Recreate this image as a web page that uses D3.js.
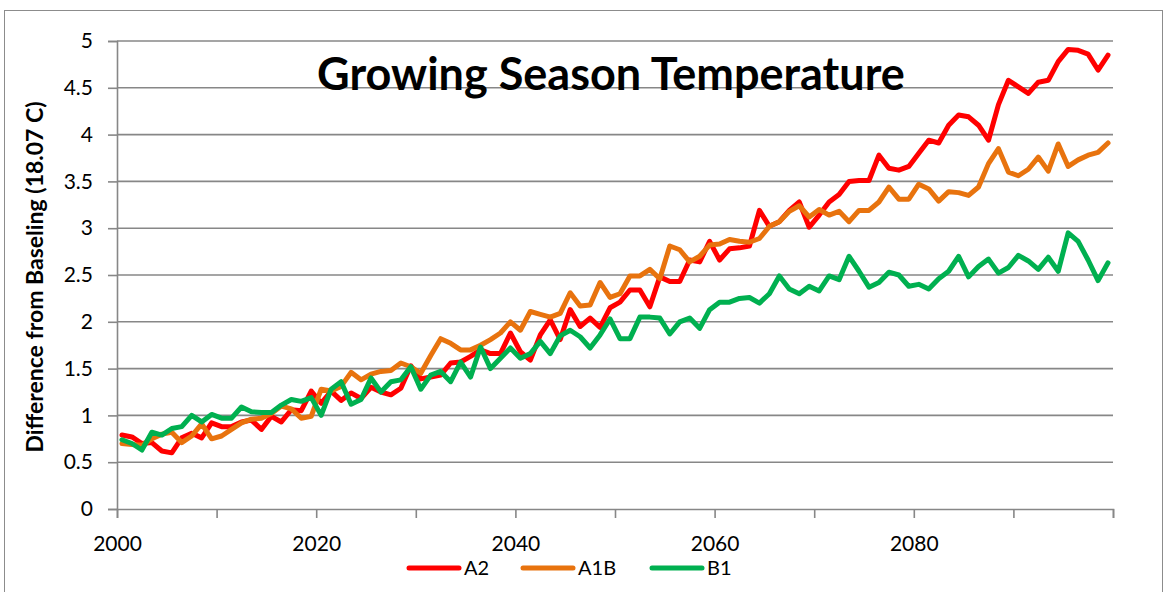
<!DOCTYPE html>
<html>
<head>
<meta charset="utf-8">
<script src="https://cdn.jsdelivr.net/npm/d3@7"></script>
<style>
  html, body { margin: 0; padding: 0; background: #fff; }
  svg { display: block; }
  text { font-family: Lato, "Liberation Sans", sans-serif; fill: #000; }
</style>
</head>
<body>
<svg id="chart" width="1168" height="592"></svg>
<script>
// Yearly categories
const years = d3.range(2000, 2100);

// Difference from baseline (deg C) per scenario
const a2 = [
  0.79, 0.77, 0.70, 0.71, 0.62, 0.60, 0.76, 0.81, 0.76, 0.92,
  0.88, 0.88, 0.93, 0.95, 0.85, 0.99, 0.93, 1.06, 1.05, 1.26,
  1.13, 1.26, 1.16, 1.24, 1.18, 1.30, 1.25, 1.22, 1.29, 1.53,
  1.39, 1.41, 1.43, 1.56, 1.57, 1.63, 1.70, 1.66, 1.66, 1.88,
  1.68, 1.59, 1.86, 2.02, 1.81, 2.13, 1.95, 2.04, 1.94, 2.15,
  2.21, 2.34, 2.34, 2.16, 2.48, 2.43, 2.43, 2.66, 2.64, 2.86,
  2.66, 2.78, 2.79, 2.81, 3.19, 3.02, 3.07, 3.19, 3.28, 3.01,
  3.14, 3.28, 3.36, 3.50, 3.51, 3.51, 3.78, 3.64, 3.62, 3.66,
  3.80, 3.94, 3.91, 4.10, 4.21, 4.19, 4.10, 3.94, 4.32, 4.58,
  4.51, 4.44, 4.56, 4.58, 4.78, 4.91, 4.90, 4.86, 4.69, 4.85
];
const a1b = [
  0.70, 0.69, 0.68, 0.75, 0.80, 0.82, 0.71, 0.78, 0.91, 0.75,
  0.78, 0.85, 0.92, 0.96, 0.97, 1.02, 1.10, 1.07, 0.97, 0.99,
  1.28, 1.26, 1.31, 1.46, 1.38, 1.44, 1.47, 1.48, 1.56, 1.52,
  1.45, 1.64, 1.82, 1.77, 1.70, 1.70, 1.75, 1.81, 1.88, 2.00,
  1.91, 2.11, 2.08, 2.05, 2.09, 2.31, 2.17, 2.18, 2.42, 2.26,
  2.30, 2.49, 2.49, 2.56, 2.46, 2.81, 2.77, 2.64, 2.70, 2.82,
  2.83, 2.88, 2.86, 2.85, 2.89, 3.02, 3.07, 3.18, 3.24, 3.12,
  3.20, 3.14, 3.18, 3.07, 3.19, 3.19, 3.28, 3.44, 3.31, 3.31,
  3.47, 3.42, 3.29, 3.39, 3.38, 3.35, 3.44, 3.69, 3.85, 3.60,
  3.56, 3.63, 3.76, 3.61, 3.90, 3.66, 3.73, 3.78, 3.81, 3.91
];
const b1 = [
  0.74, 0.70, 0.63, 0.82, 0.79, 0.86, 0.88, 1.00, 0.93, 1.01,
  0.97, 0.97, 1.09, 1.04, 1.03, 1.03, 1.11, 1.17, 1.15, 1.19,
  1.00, 1.28, 1.36, 1.12, 1.17, 1.40, 1.25, 1.36, 1.38, 1.52,
  1.28, 1.43, 1.47, 1.36, 1.57, 1.41, 1.73, 1.50, 1.61, 1.72,
  1.61, 1.66, 1.79, 1.66, 1.85, 1.91, 1.84, 1.72, 1.86, 2.03,
  1.82, 1.82, 2.05, 2.05, 2.04, 1.87, 2.00, 2.04, 1.93, 2.13,
  2.21, 2.21, 2.25, 2.26, 2.20, 2.30, 2.49, 2.35, 2.30, 2.38,
  2.33, 2.49, 2.45, 2.70, 2.54, 2.37, 2.42, 2.53, 2.50, 2.38,
  2.40, 2.35, 2.46, 2.54, 2.70, 2.48, 2.59, 2.67, 2.52, 2.58,
  2.71, 2.65, 2.56, 2.69, 2.54, 2.95, 2.86, 2.66, 2.44, 2.63
];

const seriesNames = ["A2", "A1B", "B1"];
const seriesColors = ["#ff0000", "#e8730e", "#00b050"];
const seriesValues = [a2, a1b, b1];

const yTicks = [0, 0.5, 1, 1.5, 2, 2.5, 3, 3.5, 4, 4.5, 5];
const xTickYears = d3.range(2000, 2101, 10);
const xLabelYears = [2000, 2020, 2040, 2060, 2080];

const titleText = "Growing Season Temperature";
const yTitleText = "Difference from Baseling (18.07 C)";

// Layout
const plot = { left: 117, right: 1113, top: 41, bottom: 509 };
const gridColor = "#878787";
const tickFont = "21px";

const svg = d3.select("#chart");

// Outer chart frame
svg.append("rect")
  .attr("x", 4.5).attr("y", 10.5)
  .attr("width", 1158).attr("height", 600)
  .attr("fill", "none")
  .attr("stroke", "#8c8c8c")
  .attr("stroke-width", 1);

// Scales: one band per year, points at band centres
const xBand = d3.scaleBand().domain(years).range([plot.left, plot.right]).paddingInner(0).paddingOuter(0);
const xAxisScale = d3.scaleLinear()
  .domain([years[0], years[years.length - 1] + 1])
  .range([plot.left, plot.right]);
const y = d3.scaleLinear().domain([0, 5]).range([plot.bottom, plot.top]);

// Horizontal gridlines
svg.append("g")
  .selectAll("line")
  .data(yTicks.filter(d => d > 0))
  .join("line")
  .attr("x1", plot.left).attr("x2", plot.right)
  .attr("y1", d => y(d)).attr("y2", d => y(d))
  .attr("stroke", gridColor)
  .attr("stroke-width", 1.6);

// Y axis
const yAxis = svg.append("g")
  .attr("transform", `translate(${plot.left},0)`)
  .call(d3.axisLeft(y).tickValues(yTicks).tickSize(9).tickPadding(15).tickFormat(d => String(d)));
yAxis.select(".domain").attr("stroke", gridColor).attr("stroke-width", 1.6);
yAxis.selectAll(".tick line").attr("stroke", gridColor).attr("stroke-width", 1.6);
yAxis.selectAll(".tick text")
  .style("font-size", tickFont)
  .style("font-family", "Lato, 'Liberation Sans', sans-serif")
  .attr("fill", "#000");

// X axis
const xAxis = svg.append("g")
  .attr("transform", `translate(0,${plot.bottom})`)
  .call(d3.axisBottom(xAxisScale)
    .tickValues(xTickYears)
    .tickSize(9)
    .tickPadding(18)
    .tickFormat(d => xLabelYears.includes(d) ? String(d) : ""));
xAxis.select(".domain").attr("stroke", gridColor).attr("stroke-width", 1.6);
xAxis.selectAll(".tick line").attr("stroke", gridColor).attr("stroke-width", 1.6);
xAxis.selectAll(".tick text")
  .style("font-size", tickFont)
  .style("font-family", "Lato, 'Liberation Sans', sans-serif")
  .attr("fill", "#000");

// Series lines
const line = d3.line()
  .x((d, i) => xBand(years[i]) + xBand.bandwidth() / 2)
  .y(d => y(d));

svg.append("g")
  .selectAll("path")
  .data(seriesValues)
  .join("path")
  .attr("d", d => line(d))
  .attr("fill", "none")
  .attr("stroke", (d, i) => seriesColors[i])
  .attr("stroke-width", 5)
  .attr("stroke-linejoin", "round")
  .attr("stroke-linecap", "round");

// Chart title
svg.append("text")
  .attr("x", 611).attr("y", 90)
  .attr("text-anchor", "middle")
  .style("font-size", "45px")
  .style("font-weight", "bold")
  .text(titleText);

// Y axis title
svg.append("text")
  .attr("transform", `translate(43,${(plot.top + plot.bottom) / 2 + 2}) rotate(-90)`)
  .attr("text-anchor", "middle")
  .style("font-size", "23px")
  .style("font-weight", "bold")
  .text(yTitleText);

// Legend
const legendX = [407, 521, 650];
const legendY = 568;
const legend = svg.append("g")
  .selectAll("g")
  .data(seriesNames)
  .join("g")
  .attr("transform", (d, i) => `translate(${legendX[i]},${legendY})`);
legend.append("line")
  .attr("x1", 2).attr("x2", 52)
  .attr("y1", 0).attr("y2", 0)
  .attr("stroke", (d, i) => seriesColors[i])
  .attr("stroke-width", 5)
  .attr("stroke-linecap", "round");
legend.append("text")
  .attr("x", 57).attr("y", 7)
  .style("font-size", "20px")
  .text(d => d);
</script>
</body>
</html>
